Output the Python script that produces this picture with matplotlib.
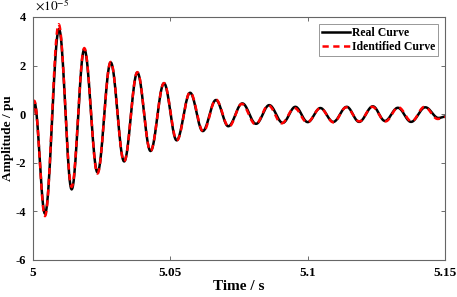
import numpy as np
import matplotlib
matplotlib.use("Agg")
import matplotlib.pyplot as plt

# extrema (time in s, amplitude in 1e-5 pu)
t_real = [5.0, 5.0005, 5.0044, 5.0095, 5.0141, 5.0187, 5.0235, 5.0283, 5.0332,
          5.0380, 5.0428, 5.0477, 5.0523, 5.0572, 5.0618, 5.0666, 5.0711,
          5.0762, 5.0812, 5.0860, 5.0909, 5.0955, 5.1000, 5.1046, 5.1093,
          5.1142, 5.1187, 5.1237, 5.1281, 5.1328, 5.1376, 5.1428, 5.1476, 5.15]
v_real = [0.0, 0.5, -4.1, 3.5, -3.1, 2.67, -2.4, 2.13, -1.95,
          1.71, -1.52, 1.27, -1.08, 0.88, -0.7, 0.58, -0.5,
          0.44, -0.4, 0.37, -0.36, 0.3, -0.33, 0.25, -0.32,
          0.3, -0.32, 0.32, -0.28, 0.26, -0.32, 0.28, -0.16, -0.1]

t_ident = [5.0, 5.0005, 5.0044, 5.0094, 5.0141, 5.0187, 5.0235, 5.0283, 5.0332,
           5.0380, 5.0428, 5.0477, 5.0524, 5.0572, 5.0620, 5.0666, 5.0713,
           5.0760, 5.0810, 5.0857, 5.0905, 5.0952, 5.0998, 5.1046, 5.1094,
           5.1140, 5.1188, 5.1235, 5.1283, 5.1330, 5.1378, 5.1425, 5.1473, 5.15]
v_ident = [0.0, 0.55, -4.2, 3.7, -3.0, 2.72, -2.45, 2.15, -1.95,
           1.73, -1.52, 1.28, -1.08, 0.9, -0.72, 0.6, -0.52,
           0.42, -0.42, 0.36, -0.38, 0.25, -0.34, 0.24, -0.34,
           0.28, -0.3, 0.3, -0.3, 0.28, -0.3, 0.3, -0.2, -0.12]

x_ticks = [5, 5.05, 5.1, 5.15]
x_labels = ['5', '5.05', '5.1', '5.15']
y_ticks = [-6, -4, -2, 0, 2, 4]
y_labels = ['-6', '-4', '-2', '0', '2', '4']


def smooth(t, v, n=20):
    # half-cosine segments between read extrema, just for drawing
    xs, ys = [], []
    for i in range(len(t) - 1):
        s = np.linspace(0, 1, n, endpoint=False)
        w = (1 - np.cos(np.pi * s)) / 2
        xs.append(t[i] + (t[i + 1] - t[i]) * s)
        ys.append(v[i] + (v[i + 1] - v[i]) * w)
    xs.append([t[-1]])
    ys.append([v[-1]])
    return np.concatenate(xs), np.concatenate(ys)


plt.rcParams['font.family'] = ['Liberation Serif', 'DejaVu Serif']
plt.rcParams['mathtext.fontset'] = 'stix'

fig = plt.figure(figsize=(4.57, 2.97), dpi=100)
ax = fig.add_axes([0.072, 0.125, 0.902, 0.818])

x1, y1 = smooth(t_real, v_real)
x2, y2 = smooth(t_ident, v_ident)
ax.plot(x1, y1, color='black', lw=1.8, label='Real Curve')
ax.plot(x2, y2, color='red', lw=1.8, ls=(0, (2.5, 1.8)), label='Identified Curve')

ax.set_xlim(5, 5.15)
ax.set_ylim(-6, 4)
ax.set_xticks(x_ticks)
ax.set_xticklabels(x_labels, fontweight='bold')
ax.set_yticks(y_ticks)
ax.set_yticklabels(y_labels, fontweight='bold')
ax.text(0.005, 1.012, r'$\times10^{-5}$', transform=ax.transAxes,
        fontsize=9.5, ha='left', va='bottom')

ax.tick_params(direction='in', top=True, right=True, length=3, width=0.6,
               color='#555555', labelsize=9.5)
ax.tick_params(axis='x', pad=5)
ax.tick_params(axis='y', pad=5, labelsize=9)
for sp in ax.spines.values():
    sp.set_color('#666666')
    sp.set_linewidth(0.8)

ax.set_xlabel('Time / s', fontsize=11, fontweight='bold', labelpad=1)
ax.set_ylabel('Amplitude / pu', fontsize=9.5, fontweight='bold')
ax.yaxis.set_label_coords(-0.047, 0.5)

leg = ax.legend(loc='upper right', fontsize=8.5, handlelength=2.4,
                borderpad=0.25, labelspacing=0.15, handletextpad=0.15,
                fancybox=False, framealpha=1, borderaxespad=0.6)
leg.get_frame().set_edgecolor('#888888')
leg.get_frame().set_linewidth(0.6)
for txt in leg.get_texts():
    txt.set_fontweight('bold')

fig.savefig('out.png', dpi=100)
